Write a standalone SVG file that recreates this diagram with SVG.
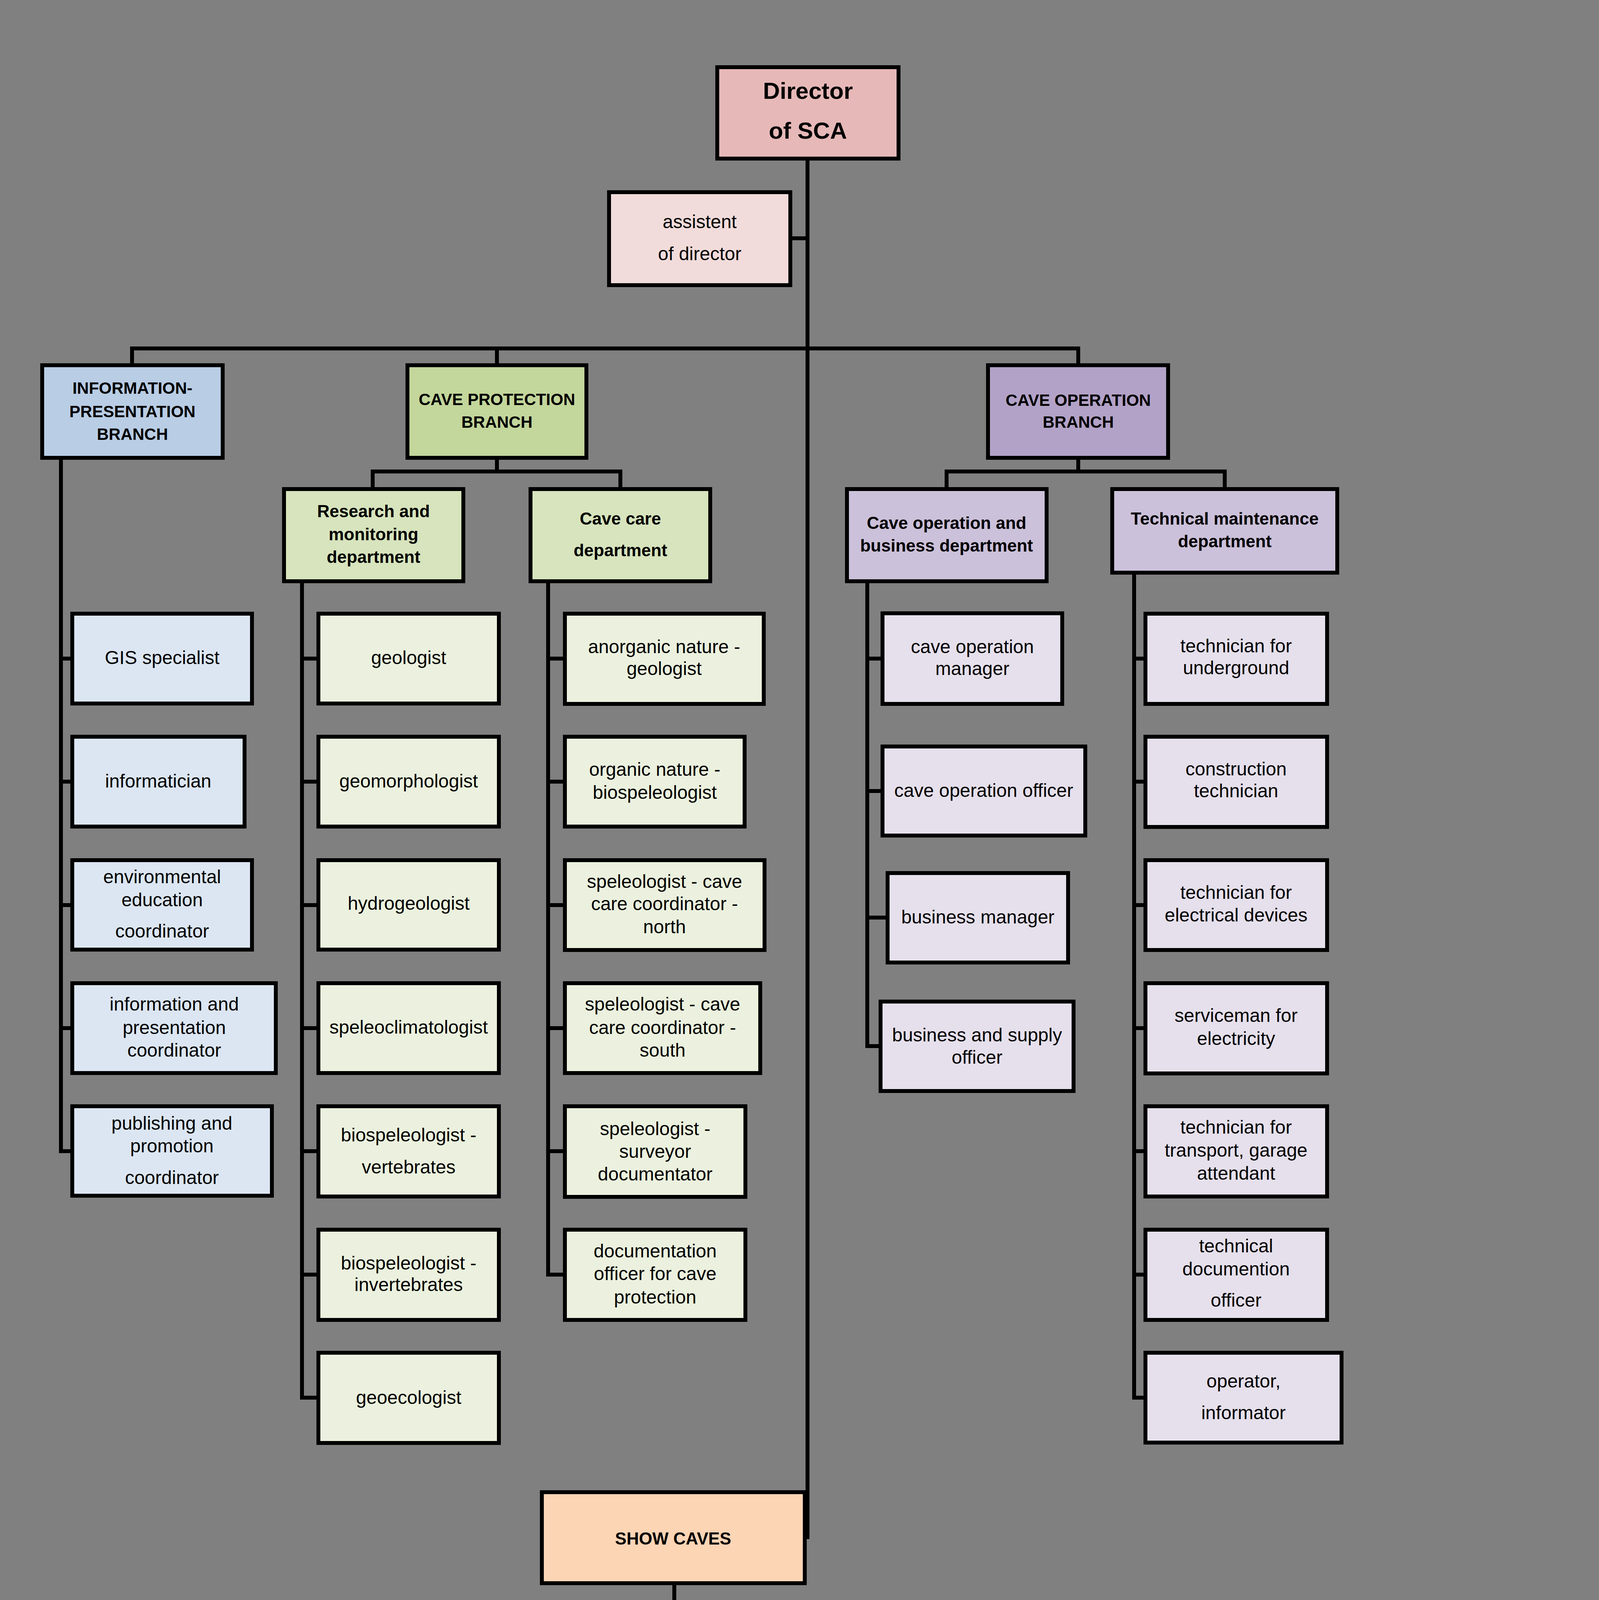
<svg xmlns="http://www.w3.org/2000/svg" width="4093" height="5790" viewBox="0 0 4093 5790">
<defs>
<style>
.bx{stroke:#000;stroke-width:10}
.ln{stroke:#000;stroke-width:10;fill:none;stroke-linejoin:miter}
.lc{stroke:#000;stroke-width:12;fill:none}
text{font-family:"Liberation Sans",Arial,sans-serif;fill:#000;text-anchor:middle}
.t{font-size:48px}
.tb{font-size:44px;font-weight:bold}
.tbr{font-size:42px;font-weight:bold}
.td{font-size:60px;font-weight:bold}
.tc{font-size:42px}
.dir{fill:#E6B9B8}.asst{fill:#F2DCDB}
.ib{fill:#B9CDE5}.ii{fill:#DCE6F2}
.cb{fill:#C3D69B}.cd{fill:#D7E4BD}.ci{fill:#EBF1DE}
.ob{fill:#B3A2C7}.od{fill:#CCC1DA}.oi{fill:#E6E0EC}
.sb{fill:#FCD5B5}.si{fill:#FDEADA}
</style>
</defs>
<rect x="0" y="0" width="4093" height="5790" fill="#808080"/>
<rect x="0" y="5787" width="4093" height="3" fill="#ffffff"/>

<g id="connectors">
<path class="ln" d="M2067,406 V3940"/>
<path class="ln" d="M2023,610 H2067"/>
<path class="ln" d="M338,935 V892 H2760 V935"/>
<path class="ln" d="M1272,892 V935"/>
<path class="ln" d="M156,1172 V2947"/>
<path class="ln" d="M156,1686 H185 M156,2001 H185 M156,2317 H185 M156,2632 H185 M151,2947 H185"/>
<path class="ln" d="M1272,1172 V1207"/>
<path class="ln" d="M954,1252 V1207 H1588 V1252"/>
<path class="ln" d="M773,1488 V3578"/>
<path class="ln" d="M773,1686 H815 M773,2001 H815 M773,2317 H815 M773,2632 H815 M773,2947 H815 M773,3263 H815 M768,3578 H815"/>
<path class="ln" d="M1403,1488 V3263"/>
<path class="ln" d="M1403,1686 H1446 M1403,2001 H1446 M1403,2317 H1446 M1403,2632 H1446 M1403,2947 H1446 M1398,3263 H1446"/>
<path class="ln" d="M2760,1172 V1207"/>
<path class="ln" d="M2423,1252 V1207 H3135 V1252"/>
<path class="ln" d="M2220,1488 V2680"/>
<path class="ln" d="M2220,1686 H2259 M2220,2025 H2259 M2220,2349 H2272 M2215,2678 H2254"/>
<path class="ln" d="M2903,1466 V3578"/>
<path class="ln" d="M2903,1686 H2932 M2903,2001 H2932 M2903,2317 H2932 M2903,2632 H2932 M2903,2947 H2932 M2903,3263 H2932 M2898,3578 H2932"/>
<path class="ln" d="M1726,4053 V4568"/>
<path class="lc" d="M586,4254 H2829"/>
<path class="lc" d="M586,4568 H2829"/>
</g>

<g id="director"><rect class="bx dir" x="1836" y="172" width="464" height="234"/>
<text class="td" x="2068" y="253">Director</text><text class="td" x="2068" y="355">of SCA</text></g>
<g id="assistant"><rect class="bx asst" x="1559" y="492" width="464" height="238"/>
<text class="t" x="1791" y="584">assistent</text><text class="t" x="1791" y="666">of director</text></g>

<g id="info-branch"><rect class="bx ib" x="108" y="935" width="462" height="237"/>
<text class="tbr" x="339" y="1008">INFORMATION-</text><text class="tbr" x="339" y="1068">PRESENTATION</text><text class="tbr" x="339" y="1126">BRANCH</text></g>
<g id="cave-protection-branch"><rect class="bx cb" x="1043" y="935" width="458" height="237"/>
<text class="tbr" x="1272" y="1037">CAVE PROTECTION</text><text class="tbr" x="1272" y="1095">BRANCH</text></g>
<g id="cave-operation-branch"><rect class="bx ob" x="2529" y="935" width="461" height="237"/>
<text class="tbr" x="2760" y="1039">CAVE OPERATION</text><text class="tbr" x="2760" y="1095">BRANCH</text></g>

<g id="research-dept"><rect class="bx cd" x="727" y="1252" width="459" height="236"/>
<text class="tb" x="956" y="1324">Research and</text><text class="tb" x="956" y="1383">monitoring</text><text class="tb" x="956" y="1441">department</text></g>
<g id="cave-care-dept"><rect class="bx cd" x="1358" y="1252" width="460" height="236"/>
<text class="tb" x="1588" y="1343">Cave care</text><text class="tb" x="1588" y="1424">department</text></g>
<g id="cave-op-business-dept"><rect class="bx od" x="2168" y="1252" width="511" height="236"/>
<text class="tb" x="2423" y="1354">Cave operation and</text><text class="tb" x="2423" y="1412">business department</text></g>
<g id="tech-maint-dept"><rect class="bx od" x="2847" y="1252" width="576" height="214"/>
<text class="tb" x="3135" y="1343">Technical maintenance</text><text class="tb" x="3135" y="1401">department</text></g>

<g id="gis"><rect class="bx ii" x="185" y="1571" width="460" height="230"/><text class="t" x="415" y="1700">GIS specialist</text></g>
<g id="informatician"><rect class="bx ii" x="185" y="1886" width="441" height="230"/><text class="t" x="405" y="2016">informatician</text></g>
<g id="env-edu"><rect class="bx ii" x="185" y="2202" width="460" height="229"/>
<text class="t" x="415" y="2261">environmental</text><text class="t" x="415" y="2320">education</text><text class="t" x="415" y="2400">coordinator</text></g>
<g id="info-pres-coord"><rect class="bx ii" x="185" y="2517" width="521" height="230"/>
<text class="t" x="446" y="2587">information and</text><text class="t" x="446" y="2647">presentation</text><text class="t" x="446" y="2705">coordinator</text></g>
<g id="publishing"><rect class="bx ii" x="185" y="2832" width="511" height="229"/>
<text class="t" x="440" y="2892">publishing and</text><text class="t" x="440" y="2950">promotion</text><text class="t" x="440" y="3031">coordinator</text></g>

<g id="geologist"><rect class="bx ci" x="815" y="1571" width="462" height="230"/><text class="t" x="1046" y="1700">geologist</text></g>
<g id="geomorphologist"><rect class="bx ci" x="815" y="1886" width="462" height="230"/><text class="t" x="1046" y="2016">geomorphologist</text></g>
<g id="hydrogeologist"><rect class="bx ci" x="815" y="2202" width="462" height="229"/><text class="t" x="1046" y="2329">hydrogeologist</text></g>
<g id="speleoclimatologist"><rect class="bx ci" x="815" y="2517" width="462" height="230"/><text class="t" x="1046" y="2646">speleoclimatologist</text></g>
<g id="bio-vert"><rect class="bx ci" x="815" y="2832" width="462" height="231"/>
<text class="t" x="1046" y="2922">biospeleologist -</text><text class="t" x="1046" y="3004">vertebrates</text></g>
<g id="bio-invert"><rect class="bx ci" x="815" y="3148" width="462" height="231"/>
<text class="t" x="1046" y="3250">biospeleologist -</text><text class="t" x="1046" y="3305">invertebrates</text></g>
<g id="geoecologist"><rect class="bx ci" x="815" y="3463" width="462" height="231"/><text class="t" x="1046" y="3594">geoecologist</text></g>

<g id="anorganic"><rect class="bx ci" x="1446" y="1571" width="509" height="231"/>
<text class="t" x="1700" y="1672">anorganic nature -</text><text class="t" x="1700" y="1728">geologist</text></g>
<g id="organic"><rect class="bx ci" x="1446" y="1886" width="460" height="230"/>
<text class="t" x="1676" y="1986">organic nature -</text><text class="t" x="1676" y="2045">biospeleologist</text></g>
<g id="coord-north"><rect class="bx ci" x="1446" y="2202" width="511" height="230"/>
<text class="t" x="1701" y="2273">speleologist - cave</text><text class="t" x="1701" y="2330">care coordinator -</text><text class="t" x="1701" y="2389">north</text></g>
<g id="coord-south"><rect class="bx ci" x="1446" y="2517" width="500" height="230"/>
<text class="t" x="1696" y="2587">speleologist - cave</text><text class="t" x="1696" y="2647">care coordinator -</text><text class="t" x="1696" y="2705">south</text></g>
<g id="surveyor"><rect class="bx ci" x="1446" y="2832" width="462" height="232"/>
<text class="t" x="1677" y="2906">speleologist -</text><text class="t" x="1677" y="2964">surveyor</text><text class="t" x="1677" y="3022">documentator</text></g>
<g id="documentation-officer"><rect class="bx ci" x="1446" y="3148" width="462" height="231"/>
<text class="t" x="1677" y="3219">documentation</text><text class="t" x="1677" y="3277">officer for cave</text><text class="t" x="1677" y="3337">protection</text></g>

<g id="cave-op-manager"><rect class="bx oi" x="2259" y="1570" width="460" height="232"/>
<text class="t" x="2489" y="1672">cave operation</text><text class="t" x="2489" y="1728">manager</text></g>
<g id="cave-op-officer"><rect class="bx oi" x="2259" y="1911" width="519" height="228"/><text class="t" x="2518" y="2040">cave operation officer</text></g>
<g id="business-manager"><rect class="bx oi" x="2272" y="2235" width="462" height="229"/><text class="t" x="2503" y="2364">business manager</text></g>
<g id="business-supply"><rect class="bx oi" x="2254" y="2564" width="494" height="229"/>
<text class="t" x="2501" y="2666">business and supply</text><text class="t" x="2501" y="2723">officer</text></g>

<g id="tech-underground"><rect class="bx oi" x="2932" y="1571" width="465" height="231"/>
<text class="t" x="3164" y="1670">technician for</text><text class="t" x="3164" y="1726">underground</text></g>
<g id="construction-tech"><rect class="bx oi" x="2932" y="1886" width="465" height="231"/>
<text class="t" x="3164" y="1985">construction</text><text class="t" x="3164" y="2041">technician</text></g>
<g id="tech-electrical"><rect class="bx oi" x="2932" y="2202" width="465" height="230"/>
<text class="t" x="3164" y="2301">technician for</text><text class="t" x="3164" y="2359">electrical devices</text></g>
<g id="serviceman"><rect class="bx oi" x="2932" y="2517" width="465" height="231"/>
<text class="t" x="3164" y="2616">serviceman for</text><text class="t" x="3164" y="2675">electricity</text></g>
<g id="tech-transport"><rect class="bx oi" x="2932" y="2832" width="465" height="231"/>
<text class="t" x="3164" y="2902">technician for</text><text class="t" x="3164" y="2961">transport, garage</text><text class="t" x="3164" y="3020">attendant</text></g>
<g id="tech-doc"><rect class="bx oi" x="2932" y="3148" width="465" height="231"/>
<text class="t" x="3164" y="3206">technical</text><text class="t" x="3164" y="3265">documention</text><text class="t" x="3164" y="3345">officer</text></g>
<g id="operator"><rect class="bx oi" x="2932" y="3463" width="502" height="230"/>
<text class="t" x="3183" y="3552">operator,</text><text class="t" x="3183" y="3633">informator</text></g>

<g id="show-caves"><rect class="bx sb" x="1387" y="3820" width="673" height="233"/><text class="tb" x="1723" y="3954">SHOW CAVES</text></g>

<g id="belianska"><rect class="bx si" x="124" y="4136" width="462" height="233"/><text class="tc" x="355" y="4269">Belianska Cave</text></g>
<g id="bystrianska"><rect class="bx si" x="666" y="4136" width="462" height="233"/><text class="tc" x="897" y="4269">Bystrianska Cave</text></g>
<g id="demanovska-liberty"><rect class="bx si" x="1206" y="4136" width="462" height="233"/>
<text class="tc" x="1437" y="4237">Demänovská Cave</text><text class="tc" x="1437" y="4298">of Liberty</text></g>
<g id="demanovska-ice"><rect class="bx si" x="1747" y="4136" width="462" height="233"/>
<text class="tc" x="1978" y="4237">Demänovská Ice</text><text class="tc" x="1978" y="4298">Cave</text></g>
<g id="dobsinska"><rect class="bx si" x="2289" y="4136" width="462" height="233"/><text class="tc" x="2520" y="4269">Dobšinská Ice Cave</text></g>
<g id="domica"><rect class="bx si" x="2829" y="4136" width="462" height="233"/><text class="tc" x="3060" y="4269">Domica Cave</text></g>

<g id="driny"><rect class="bx si" x="124" y="4453" width="462" height="231"/><text class="tc" x="355" y="4583">Driny Cave</text></g>
<g id="gombasecka"><rect class="bx si" x="666" y="4453" width="462" height="231"/><text class="tc" x="897" y="4583">Gombasecká Cave</text></g>
<g id="harmanecka"><rect class="bx si" x="1206" y="4453" width="462" height="231"/><text class="tc" x="1437" y="4583">Harmanecká Cave</text></g>
<g id="jasovska"><rect class="bx si" x="1747" y="4453" width="462" height="231"/><text class="tc" x="1978" y="4583">Jasovská Cave</text></g>
<g id="ochtinska"><rect class="bx si" x="2289" y="4453" width="462" height="231"/>
<text class="tc" x="2520" y="4556">Ochtinská Aragonite</text><text class="tc" x="2520" y="4613">Cave</text></g>
<g id="vazecka"><rect class="bx si" x="2829" y="4453" width="462" height="231"/><text class="tc" x="3060" y="4583">Važecká Cave</text></g>
</svg>
